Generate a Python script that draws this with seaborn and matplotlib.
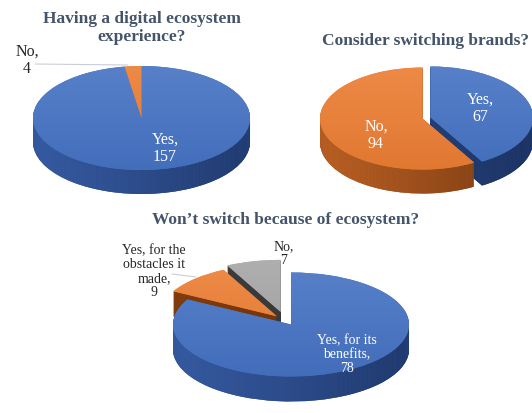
import textwrap
import numpy as np
import matplotlib
matplotlib.use("Agg")
import matplotlib.pyplot as plt
import seaborn as sns
from matplotlib.colors import LinearSegmentedColormap, to_rgb
from matplotlib.lines import Line2D

sns.set_theme(style="white")
plt.rcParams["font.family"] = ["Liberation Serif", "DejaVu Serif"]

# Survey answers
eco_labels = ["Yes", "No"]
eco_counts = [157, 4]

switch_labels = ["Yes", "No"]
switch_counts = [67, 94]

stay_labels = ["Yes, for its benefits", "Yes, for the obstacles it made", "No"]
stay_counts = [78, 9, 7]

titles = [
    "Having a digital ecosystem\nexperience?",
    "Consider switching brands?",
    "Won\u2019t switch because of ecosystem?",
]

W, H = 532, 414
fig = plt.figure(figsize=(W / 100, H / 100), dpi=100)
fig.patch.set_facecolor("white")

blue, orange, grey = sns.color_palette(["#4472C4", "#ED7D31", "#A5A5A5"])
TITLE_C = "#44546A"
DARK_TXT = "#262626"


def shade(c, f):
    """f > 0 mixes toward white, f < 0 toward black."""
    c = np.array(to_rgb(c))
    return tuple(c + (1 - c) * f) if f > 0 else tuple(c * (1 + f))


def pie3d(values, colors, side_pairs, cx, cy, rx, ry, depth, explode):
    """Tilted pie: a stack of pies gives the rim, the last one is the top face."""
    ax = fig.add_axes([0, 0, 1, 1])
    ax.patch.set_alpha(0)
    ax.axis("off")
    ylo = -(depth / ry) - 1.4
    grad_x = np.linspace(0, 1, 256)[None, :]
    grad_y = np.linspace(0, 1, 256)[:, None]
    side_maps = [LinearSegmentedColormap.from_list("", list(p)) for p in side_pairs]
    z = 1
    for t in range(depth, 0, -1):
        wedges, _ = ax.pie(values, explode=explode, startangle=90, counterclock=False,
                           center=(0, -t / ry),
                           colors=[m(0.5) for m in side_maps],
                           wedgeprops=dict(linewidth=0))
        for w, cmap in zip(wedges, side_maps):
            w.set_zorder(z)
            im = ax.imshow(grad_x, cmap=cmap, extent=(-1.3, 1.3, ylo, 1.3),
                           aspect="auto", zorder=z, interpolation="bilinear")
            im.set_clip_path(w)
        z += 1
    wedges, _ = ax.pie(values, explode=explode, startangle=90, counterclock=False,
                       center=(0, 0), colors=colors, wedgeprops=dict(linewidth=0))
    for w, c in zip(wedges, colors):
        w.set_zorder(z)
        cmap = LinearSegmentedColormap.from_list("", [shade(c, -0.06), shade(c, 0.12)])
        im = ax.imshow(grad_y, cmap=cmap, origin="lower", extent=(-1.3, 1.3, -1.3, 1.3),
                       aspect="auto", zorder=z, interpolation="bilinear")
        im.set_clip_path(w)
    ax.set_aspect("auto")
    ax.set_xlim(-cx / rx, (W - cx) / rx)
    ax.set_ylim((cy - H) / ry, cy / ry)
    return ax


def label(x, y, s, size, color):
    fig.text(x / W, 1 - y / H, s, ha="center", va="center", fontsize=size,
             color=color, linespacing=1.1)


def leader(x0, y0, x1, y1):
    fig.add_artist(Line2D([x0 / W, x1 / W], [1 - y0 / H, 1 - y1 / H],
                          transform=fig.transFigure, color="#C9CED6", lw=0.8))


def text_of(name, count, width=12):
    return textwrap.fill(f"{name},", width) + f"\n{count}"


# Pie 1: digital ecosystem experience
pie3d(eco_counts, [blue, orange],
      [("#3D65B2", "#1C3363"), ("#C0621F", "#7A3A0E")],
      cx=141.5, cy=119, rx=108.5, ry=52, depth=24, explode=[0, 0])
fig.text(142 / W, 1 - 28 / H, titles[0], ha="center", va="center", fontsize=12.5,
         fontweight="bold", color=TITLE_C, linespacing=1.1)
label(165, 148, text_of(eco_labels[0], eco_counts[0]), 11.5, "white")
label(27, 60, text_of(eco_labels[1], eco_counts[1]), 11.5, DARK_TXT)
leader(35, 65, 128, 66)

# Pie 2: switching brands
pie3d(switch_counts, [blue, orange],
      [("#2E4F92", "#1A2F5C"), ("#CB6A2A", "#6A320C")],
      cx=426.5, cy=119, rx=102.5, ry=51, depth=24, explode=[0.04, 0.04])
fig.text(425 / W, 1 - 41 / H, titles[1], ha="center", va="center", fontsize=12.5,
         fontweight="bold", color=TITLE_C)
label(480, 108, text_of(switch_labels[0], switch_counts[0]), 11.5, "white")
label(376, 135, text_of(switch_labels[1], switch_counts[1]), 11.5, "white")

# Pie 3: reasons for staying
pie3d(stay_counts, [blue, orange, grey],
      [("#3D65B2", "#1C3363"), ("#8A410F", "#5E2A08"), ("#454545", "#2E2E2E")],
      cx=285, cy=321, rx=118, ry=52, depth=25, explode=[0.1, 0.1, 0.16])
fig.text(286 / W, 1 - 220 / H, titles[2], ha="center", va="center", fontsize=12.5,
         fontweight="bold", color=TITLE_C)
label(347, 355, text_of(stay_labels[0], stay_counts[0]), 10, "white")
label(154, 272, text_of(stay_labels[1], stay_counts[1]), 10, DARK_TXT)
label(284, 254, text_of(stay_labels[2], stay_counts[2]), 10, DARK_TXT)
leader(172, 275, 196, 278)

fig.savefig("out.png", dpi=100, facecolor="white")
